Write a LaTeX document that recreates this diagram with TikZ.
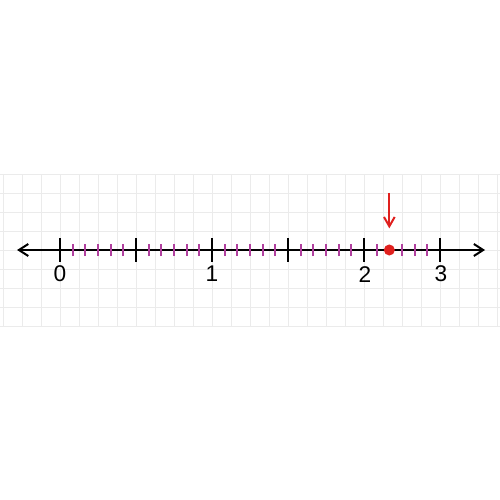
\documentclass[tikz,border=0pt]{standalone}
\usepackage{fontspec}
\setmainfont{Liberation Sans}
\usepackage{xcolor}
\usetikzlibrary{arrows.meta}
\definecolor{gridgray}{HTML}{EBEBEB}
\definecolor{tickpink}{HTML}{B0409E}
\definecolor{markred}{HTML}{E0201E}

\begin{document}
\begin{tikzpicture}[x=0.5cm,y=0.5cm,
  barb/.style={line width=1.5pt,-{Straight Barb[length=7pt,width=8pt]}},
  numlabel/.style={inner sep=0pt,font=\fontsize{17}{20}\selectfont}]
\useasboundingbox (-3.158,-13.158) rectangle (23.158,13.158);
\fill[white] (-3.158,-13.158) rectangle (23.158,13.158);
% background grid
\draw[gridgray,line width=0.5pt,step=0.5cm] (-3.158,-4) grid (23.158,4);
% axis with arrows both ways
\coordinate (axL) at (-2.26,0);
\coordinate (axR) at (22.37,0);
\draw[line width=1.5pt,{Straight Barb[length=7pt,width=9pt]}-{Straight Barb[length=7pt,width=9pt]}] (axL)--(axR);
% small ticks
\foreach \m in {0,...,4}
  \foreach \k in {1,...,5}{
    \ifnum\numexpr\m*10+\k\relax=42\else
      \draw[tickpink,line width=1.3pt] ({4*\m+2*\k/3},-0.32)--({4*\m+2*\k/3},0.32);
    \fi}
% big ticks
\foreach \x in {0,4,...,20}
  \draw[line width=1.8pt] (\x,-0.63)--(\x,0.63);
% labels
\node[numlabel] (n0) at (0,-1.27){0};
\node[numlabel] (n1) at (8,-1.27){1};
\node[numlabel] (n2) at (16.05,-1.27){2};
\node[numlabel] (n3) at (20.05,-1.27){3};
% marked point
\coordinate (pt) at (17.333,0);
\coordinate (top) at (17.333,3.0);
\coordinate (tip) at (17.333,1.14);
\fill[markred] (pt) circle (0.29);
\draw[markred,barb] (top)--(tip);
\end{tikzpicture}
\end{document}
